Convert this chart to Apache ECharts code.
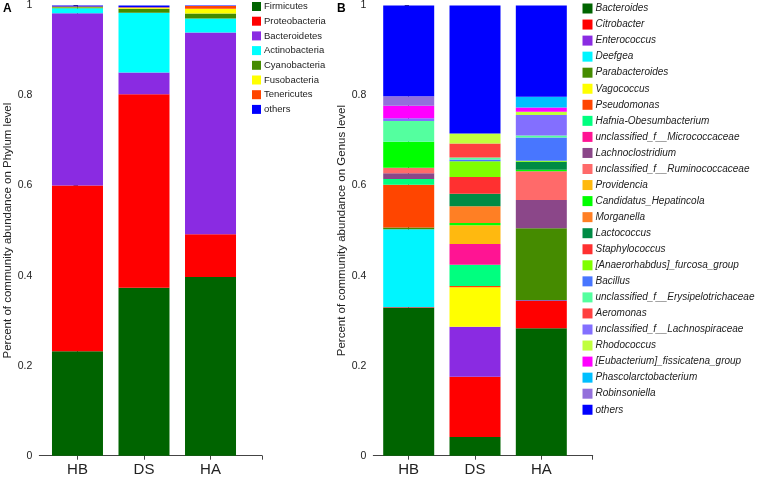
<!DOCTYPE html>
<html><head><meta charset="utf-8">
<script src="https://cdn.jsdelivr.net/npm/echarts@6/dist/echarts.min.js"></script>
<style>html,body{margin:0;padding:0;background:#fff}#c{width:758px;height:478px}</style>
</head><body><div id="c"></div>
<script>
// ---------- data ----------
const samples = ['HB', 'DS', 'HA'];
const yTickValues = [0, 0.2, 0.4, 0.6, 0.8, 1];

const phylumNames = ['Firmicutes', 'Proteobacteria', 'Bacteroidetes', 'Actinobacteria', 'Cyanobacteria', 'Fusobacteria', 'Tenericutes', 'others'];
const phylumHB = [0.232, 0.368, 0.383, 0.011, 0.002, 0.0005, 0.0015, 0.002];
const phylumDS = [0.373, 0.430, 0.048, 0.133, 0.009, 0.002, 0.001, 0.004];
const phylumHA = [0.397, 0.095, 0.448, 0.031, 0.011, 0.011, 0.006, 0.001];

const genusNames = ['Bacteroides', 'Citrobacter', 'Enterococcus', 'Deefgea', 'Parabacteroides', 'Vagococcus', 'Pseudomonas',
  'Hafnia-Obesumbacterium', 'unclassified_f__Micrococcaceae', 'Lachnoclostridium', 'unclassified_f__Ruminococcaceae',
  'Providencia', 'Candidatus_Hepatincola', 'Morganella', 'Lactococcus', 'Staphylococcus', '[Anaerorhabdus]_furcosa_group',
  'Bacillus', 'unclassified_f__Erysipelotrichaceae', 'Aeromonas', 'unclassified_f__Lachnospiraceae', 'Rhodococcus',
  '[Eubacterium]_fissicatena_group', 'Phascolarctobacterium', 'Robinsoniella', 'others'];
const genusHB = [0.328, 0.002, 0, 0.173, 0.004, 0, 0.095, 0.0125, 0, 0.013, 0.012, 0, 0.058, 0, 0, 0, 0, 0, 0.046, 0, 0.006, 0, 0.028, 0, 0.021, 0.2015];
const genusDS = [0.0415, 0.134, 0.111, 0, 0, 0.0875, 0.003, 0.047, 0.0465, 0, 0, 0.0415, 0.005, 0.037, 0.028, 0.037, 0.035, 0.004, 0.0045, 0.031, 0, 0.022, 0, 0, 0, 0.2845];
const genusHA = [0.283, 0.0605, 0.002, 0, 0.1595, 0, 0, 0, 0, 0.063, 0.064, 0, 0.003, 0, 0.018, 0, 0.002, 0.052, 0.0045, 0, 0.045, 0.0075, 0.0097, 0.0235, 0, 0.2028];

// ---------- styles ----------
const phylumColors = ['#006400', '#FF0000', '#8A2BE2', '#00FFFF', '#458B00', '#FFFF00', '#FF4500', '#0000FF'];
const genusColors = ['#006400', '#FF0000', '#8A2BE2', '#00F5FF', '#458B00', '#FFFF00', '#FF4500', '#00FF7F', '#FF1493',
  '#8B4789', '#FF6A6A', '#FFB90F', '#00FF00', '#FF7F24', '#008B45', '#FF3030', '#7FFF00', '#4876FF', '#54FF9F', '#FF4040',
  '#836FFF', '#C0FF3E', '#FF00FF', '#00BFFF', '#9370DB', '#0000FF'];

const FONT = 'Liberation Sans, Arial, sans-serif';
const AXIS_COLOR = '#444';
const TEXT_COLOR = '#222';

function xAxisDef(gridIndex, min, max) {
  return {
    type: 'value', gridIndex, min, max,
    axisLine: { show: true, lineStyle: { color: AXIS_COLOR, width: 1 } },
    axisTick: { show: true, length: 4, lineStyle: { color: AXIS_COLOR }, customValues: [0, 1, 2, max] },
    axisLabel: { show: true, customValues: [0, 1, 2], formatter: v => samples[Math.round(v)] || '',
      fontSize: 15, color: TEXT_COLOR, fontFamily: FONT, margin: 7 },
    splitLine: { show: false }
  };
}
function yAxisDef(gridIndex, name) {
  return {
    type: 'value', gridIndex, min: 0, max: 1, interval: 0.2,
    name, nameLocation: 'middle', nameGap: 22,
    nameTextStyle: { fontSize: 11.5, color: TEXT_COLOR, fontFamily: FONT },
    axisLine: { show: true, lineStyle: { color: AXIS_COLOR, width: 1 } },
    axisTick: { show: true, length: 4, lineStyle: { color: AXIS_COLOR } },
    axisLabel: { fontSize: 10.5, color: TEXT_COLOR, fontFamily: FONT, margin: 7,
      formatter: v => String(+v.toFixed(1)) },
    splitLine: { show: false }
  };
}

// data rows are [value, samplePosition]; encode maps them so the value column is the stacked one
const series = [];
phylumNames.forEach((n, i) => {
  series.push({
    name: n, type: 'bar', stack: 'phylum', xAxisIndex: 0, yAxisIndex: 0, barWidth: 51,
    encode: { x: 1, y: 0 },
    itemStyle: { color: phylumColors[i] },
    data: [[phylumHB[i], 0], [phylumDS[i], 1], [phylumHA[i], 2]]
  });
});
genusNames.forEach((n, i) => {
  series.push({
    name: n, type: 'bar', stack: 'genus', xAxisIndex: 1, yAxisIndex: 1, barWidth: 51,
    encode: { x: 1, y: 0 },
    itemStyle: { color: genusColors[i] },
    data: [[genusHB[i], 0], [genusDS[i], 1], [genusHA[i], 2]]
  });
});

const chart = echarts.init(document.getElementById('c'), null, { renderer: 'canvas' });
chart.setOption({
  animation: false,
  backgroundColor: '#fff',
  grid: [
    { left: 39.3, top: 5, width: 222.7, height: 450.7 },
    { left: 373.3, top: 5, width: 219.4, height: 450.7 }
  ],
  xAxis: [xAxisDef(0, -0.574, 2.774), xAxisDef(1, -0.534, 2.775)],
  yAxis: [yAxisDef(0, 'Percent of community abundance on Phylum level'),
          yAxisDef(1, 'Percent of community abundance on Genus level')],
  legend: [
    { orient: 'vertical', left: 252, top: 1.5, padding: 0, itemWidth: 9, itemHeight: 9, itemGap: 4.7, icon: 'rect',
      selectedMode: false, data: phylumNames,
      textStyle: { fontSize: 9.5, lineHeight: 9, color: TEXT_COLOR, fontFamily: FONT, padding: [0, 0, 0, -2] } },
    { orient: 'vertical', left: 582.5, top: 3.5, padding: 0, itemWidth: 10, itemHeight: 10, itemGap: 6.05, icon: 'rect',
      selectedMode: false, data: genusNames,
      textStyle: { fontSize: 10, lineHeight: 10, fontStyle: 'italic', color: TEXT_COLOR, fontFamily: FONT, padding: [0, 0, 0, -2] } }
  ],
  graphic: [
    { type: 'text', left: 3, top: 3, style: { text: 'A', font: 'bold 12px ' + FONT, fill: '#000' } },
    { type: 'text', left: 337, top: 3, style: { text: 'B', font: 'bold 12px ' + FONT, fill: '#000' } }
  ],
  series
});
</script>
</body></html>
